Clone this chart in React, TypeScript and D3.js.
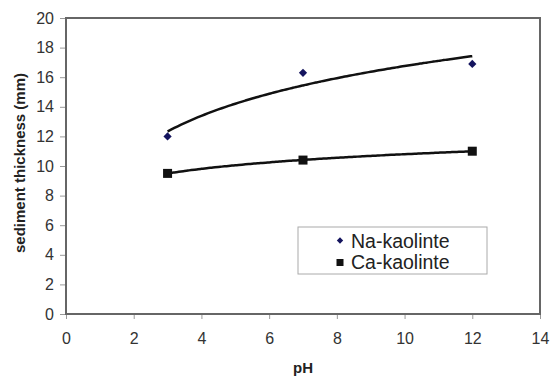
import React, { useRef, useEffect } from "react";
import * as d3 from "d3";

// pH values and measured sediment thickness (mm)
const phValues = [3, 7, 12];
const naKaolinite = [12.0, 16.3, 16.9];
const caKaolinite = [9.5, 10.4, 11.0];
const xTicks = [0, 2, 4, 6, 8, 10, 12, 14];
const yTicks = [0, 2, 4, 6, 8, 10, 12, 14, 16, 18, 20];
const seriesNames = ["Na-kaolinte", "Ca-kaolinte"];

// Excel style logarithmic trendline: y = a*ln(x) + b
const logFit = (xs: number[], ys: number[]) => {
  const lx = xs.map(Math.log);
  const mx = d3.mean(lx)!;
  const my = d3.mean(ys)!;
  const sxy = d3.sum(lx, (v, i) => (v - mx) * (ys[i] - my));
  const sxx = d3.sum(lx, (v) => (v - mx) * (v - mx));
  const a = sxy / sxx;
  const b = my - a * mx;
  return (x: number) => a * Math.log(x) + b;
};

const App = () => {
  const svgRef = useRef<SVGSVGElement>(null);

  useEffect(() => {
    const svg = d3.select(svgRef.current);
    svg.selectAll("*").remove();

    const margin = { top: 18, left: 66 };
    const width = 540 - margin.left;
    const height = 314 - margin.top;

    const g = svg
      .append("g")
      .attr("transform", `translate(${margin.left},${margin.top})`);

    const x = d3.scaleLinear().domain([0, 14]).range([0, width]);
    const y = d3.scaleLinear().domain([0, 20]).range([height, 0]);

    const font = "Liberation Sans, Arial, sans-serif";

    // Axes
    const xAxis = g
      .append("g")
      .attr("transform", `translate(0,${height})`)
      .call(d3.axisBottom(x).tickValues(xTicks).tickSize(5).tickPadding(14));
    const yAxis = g
      .append("g")
      .call(d3.axisLeft(y).tickValues(yTicks).tickSize(6).tickPadding(6));
    [xAxis, yAxis].forEach((ax) => {
      ax.select(".domain").remove();
      ax.selectAll("line").attr("stroke", "#999");
      ax.selectAll("text")
        .attr("font-family", font)
        .attr("font-size", 16)
        .attr("fill", "#333");
    });

    // Plot frame
    g.append("rect")
      .attr("x", 0)
      .attr("y", 0)
      .attr("width", width)
      .attr("height", height)
      .attr("fill", "none")
      .attr("stroke", "#666")
      .attr("stroke-width", 2);

    // Trendlines
    const drawTrend = (ys: number[]) => {
      const f = logFit(phValues, ys);
      const xs = d3.range(phValues[0], phValues[phValues.length - 1] + 0.001, 0.1);
      g.append("path")
        .attr(
          "d",
          d3
            .line<number>()
            .x((d) => x(d))
            .y((d) => y(f(d)))
            .curve(d3.curveMonotoneX)(xs)
        )
        .attr("fill", "none")
        .attr("stroke", "#111")
        .attr("stroke-width", 2.5);
    };
    drawTrend(naKaolinite);
    drawTrend(caKaolinite);

    // Markers
    const diamond = d3.symbol().type(d3.symbolSquare).size(34);
    g.selectAll(".na")
      .data(phValues)
      .enter()
      .append("path")
      .attr("d", diamond)
      .attr(
        "transform",
        (d, i) => `translate(${x(d)},${y(naKaolinite[i])}) rotate(45)`
      )
      .attr("fill", "#14145e");
    g.selectAll(".ca")
      .data(phValues)
      .enter()
      .append("rect")
      .attr("x", (d) => x(d) - 4.5)
      .attr("y", (d, i) => y(caKaolinite[i]) - 4.5)
      .attr("width", 9)
      .attr("height", 9)
      .attr("fill", "#111");

    // Legend
    const lg = svg.append("g").attr("transform", "translate(298,227)");
    lg.append("rect")
      .attr("width", 189)
      .attr("height", 47)
      .attr("fill", "#fff")
      .attr("stroke", "#aaa")
      .attr("stroke-width", 1);
    lg.append("path")
      .attr("d", d3.symbol().type(d3.symbolSquare).size(20))
      .attr("transform", "translate(42,13.5) rotate(45)")
      .attr("fill", "#14145e");
    lg.append("rect")
      .attr("x", 38.5)
      .attr("y", 32)
      .attr("width", 7)
      .attr("height", 7)
      .attr("fill", "#111");
    seriesNames.forEach((name, i) => {
      lg.append("text")
        .attr("x", 53)
        .attr("y", 20.5 + i * 21)
        .attr("font-family", font)
        .attr("font-size", 19.5)
        .attr("fill", "#222")
        .text(name);
    });

    // Axis titles
    svg
      .append("text")
      .attr("x", 303)
      .attr("y", 373)
      .attr("text-anchor", "middle")
      .attr("font-family", font)
      .attr("font-weight", "bold")
      .attr("font-size", 15)
      .attr("fill", "#222")
      .text("pH");
    svg
      .append("text")
      .attr("transform", "rotate(-90)")
      .attr("x", -163)
      .attr("y", 25)
      .attr("text-anchor", "middle")
      .attr("font-family", font)
      .attr("font-weight", "bold")
      .attr("font-size", 15)
      .attr("fill", "#222")
      .text("sediment thickness (mm)");
  }, []);

  return (
    <svg
      ref={svgRef}
      width={550}
      height={378}
      style={{ position: "absolute", left: 0, top: 0, background: "#fff" }}
    ></svg>
  );
};

export default App;
